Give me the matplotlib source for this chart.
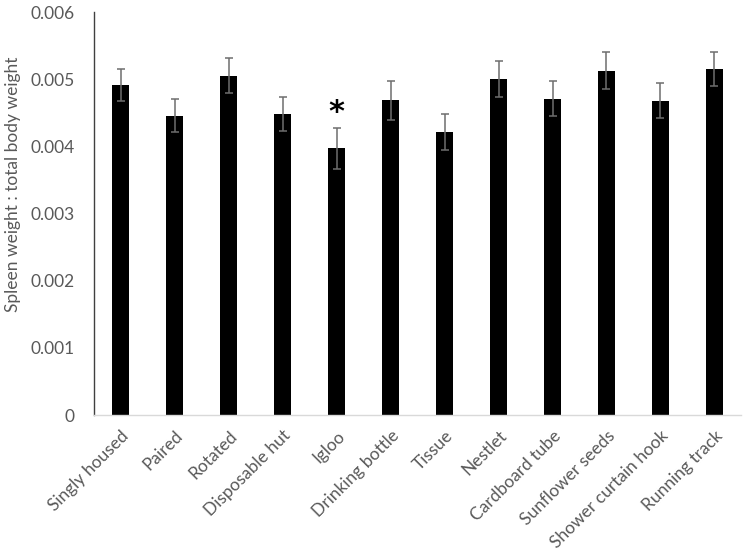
import matplotlib.pyplot as plt
import numpy as np

categories = ["Singly housed", "Paired", "Rotated", "Disposable hut", "Igloo",
              "Drinking bottle", "Tissue", "Nestlet", "Cardboard tube",
              "Sunflower seeds", "Shower curtain hook", "Running track"]
means = [0.00491, 0.00446, 0.00505, 0.00448, 0.00397, 0.00469,
         0.00422, 0.00500, 0.00471, 0.00513, 0.00468, 0.00515]
errors = [0.00024, 0.00025, 0.00026, 0.00025, 0.00030, 0.00029,
          0.00027, 0.00027, 0.00026, 0.00028, 0.00026, 0.00025]
yticks = [0, 0.001, 0.002, 0.003, 0.004, 0.005, 0.006]
ytick_labels = ["0", "0.001", "0.002", "0.003", "0.004", "0.005", "0.006"]

plt.rcParams["font.family"] = ["Lato", "DejaVu Sans"]
TEXT = "#595959"

fig = plt.figure(figsize=(7.45, 5.51), dpi=100)
ax = fig.add_axes([0.1258, 0.2468, 0.8694, 0.7312])

x = np.arange(len(categories))
ax.bar(x, means, width=0.31, color="black", zorder=2)
ax.errorbar(x, means, yerr=errors, fmt="none", ecolor="#6e6e6e",
            elinewidth=1.1, capsize=3, capthick=1.1, zorder=3)

# significance marker above Igloo
ax.text(4, 0.00451, "*", ha="center", va="center", fontsize=22,
        fontweight="bold", color="black", family="DejaVu Sans")

ax.set_xlim(-0.5, len(categories) - 0.5)
ax.set_ylim(0, 0.006)
ax.set_yticks(yticks)
ax.set_yticklabels(ytick_labels, fontsize=12.5, color=TEXT)
ax.set_xticks(x)
ax.set_xticklabels(categories, rotation=45, ha="right", rotation_mode="anchor",
                   fontsize=12.5, color=TEXT)
ax.tick_params(axis="both", length=0)
ax.tick_params(axis="x", pad=9)
ax.tick_params(axis="y", pad=14)

ax.set_ylabel("Spleen weight : total body weight", fontsize=12.5, color=TEXT)
ax.yaxis.set_label_coords(-0.113, 0.573)

for s in ["top", "right"]:
    ax.spines[s].set_visible(False)
ax.spines["left"].set_color("#404040")
ax.spines["left"].set_linewidth(1.0)
ax.spines["bottom"].set_color("#d9d9d9")
ax.spines["bottom"].set_linewidth(1.0)

fig.savefig("out.png", dpi=100)
